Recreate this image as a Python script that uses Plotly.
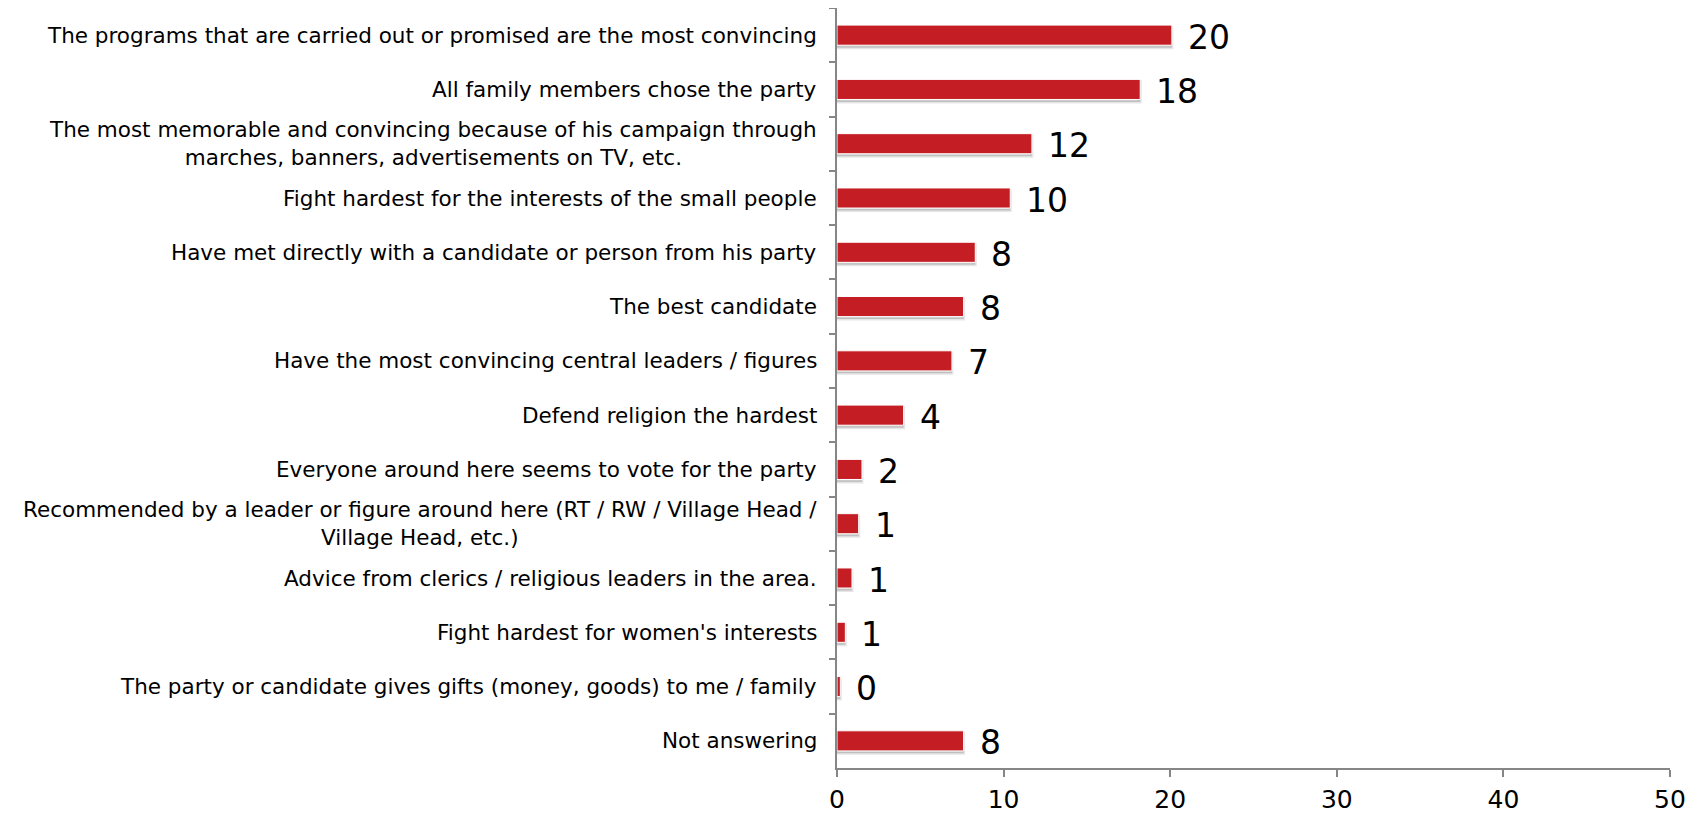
import plotly.graph_objects as go

# survey reasons, top to bottom as in the chart
categories = [
    "The programs that are carried out or promised are the most convincing",
    "All family members chose the party",
    "The most memorable and convincing because of his campaign through<br>marches, banners, advertisements on TV, etc.",
    "Fight hardest for the interests of the small people",
    "Have met directly with a candidate or person from his party",
    "The best candidate",
    "Have the most convincing central leaders / figures",
    "Defend religion the hardest",
    "Everyone around here seems to vote for the party",
    "Recommended by a leader or figure around here (RT / RW / Village Head /<br>Village Head, etc.)",
    "Advice from clerics / religious leaders in the area.",
    "Fight hardest for women's interests",
    "The party or candidate gives gifts (money, goods) to me / family",
    "Not answering",
]
values = [20.1, 18.2, 11.7, 10.4, 8.3, 7.6, 6.9, 4.0, 1.5, 1.3, 0.9, 0.5, 0.2, 7.6]
x_ticks = [0, 10, 20, 30, 40, 50]

RED = "#C41E24"
AXIS = "#868686"
FONT = "DejaVu Sans"
BAR_W = 0.37

fig = go.Figure()
# soft drop shadow under each bar
fig.add_trace(go.Bar(
    x=values, y=categories, orientation="h",
    width=BAR_W, offset=-BAR_W / 2 + 0.045,
    marker=dict(color="rgba(0,0,0,0.16)", line=dict(color="rgba(0,0,0,0.10)", width=3)),
    hoverinfo="skip",
))
fig.add_trace(go.Bar(
    x=values, y=categories, orientation="h",
    width=BAR_W, offset=-BAR_W / 2,
    marker=dict(color=RED, line=dict(color="white", width=1)),
    hoverinfo="x+y",
))

# value labels to the right of each bar
for cat, v in zip(categories, values):
    fig.add_annotation(
        x=v, y=cat, text=str(int(v + 0.5)), showarrow=False,
        xanchor="left", yanchor="middle", xshift=14, yshift=-2,
        font=dict(family=FONT, size=33, color="black"),
    )

# category labels (centered multi-line, right-aligned block)
for cat in categories:
    fig.add_annotation(
        x=0, xref="paper", y=cat, text=cat, showarrow=False,
        xanchor="right", yanchor="middle", align="center", xshift=-18,
        font=dict(family=FONT, size=21.5, color="black"),
    )

# page body has an 8px margin, so the figure is sized to fit inside it
fig.update_layout(
    width=1692, height=807,
    margin=dict(l=829, r=30, t=0, b=47),
    plot_bgcolor="white", paper_bgcolor="white",
    barmode="overlay", showlegend=False,
    xaxis=dict(
        range=[0, 50], tickvals=x_ticks, showgrid=False, zeroline=False,
        showline=True, linecolor=AXIS, linewidth=2, automargin=False,
        ticks="outside", ticklen=7, tickcolor=AXIS, tickwidth=2,
        ticklabelstandoff=1,
        tickfont=dict(family=FONT, size=25, color="black"),
    ),
    yaxis=dict(
        autorange="reversed", showgrid=False, zeroline=False,
        showline=True, linecolor=AXIS, linewidth=2, automargin=False,
        ticks="outside", ticklen=6, tickcolor=AXIS, tickwidth=2,
        tickson="boundaries", showticklabels=False,
    ),
)

fig.write_html("out.html")
